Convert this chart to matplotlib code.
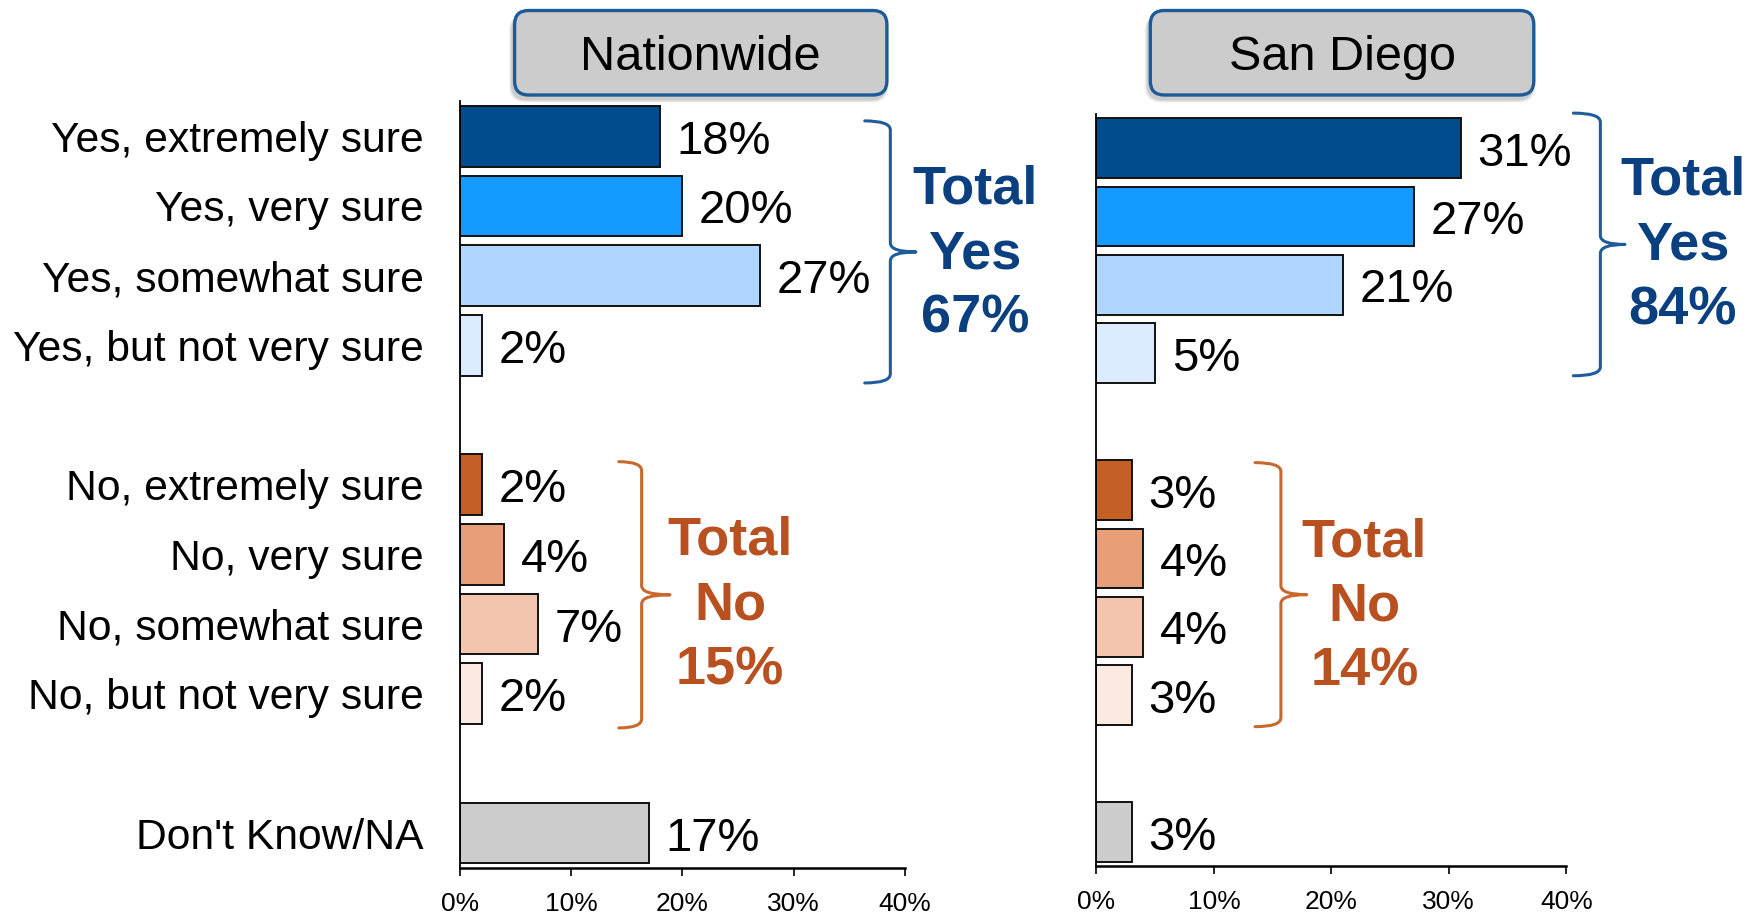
import matplotlib
matplotlib.use("Agg")
import matplotlib.pyplot as plt
from matplotlib.path import Path
from matplotlib.patches import PathPatch, FancyBboxPatch

plt.rcParams['font.family'] = ['Liberation Sans', 'DejaVu Sans']

# ---------------- data ----------------
categories = ["Yes, extremely sure", "Yes, very sure", "Yes, somewhat sure",
              "Yes, but not very sure", "No, extremely sure", "No, very sure",
              "No, somewhat sure", "No, but not very sure", "Don't Know/NA"]
nationwide = [18, 20, 27, 2, 2, 4, 7, 2, 17]
san_diego = [31, 27, 21, 5, 3, 4, 4, 3, 3]
panel_titles = ["Nationwide", "San Diego"]
total_yes = [67, 84]
total_no = [15, 14]
xticks = [0, 10, 20, 30, 40]
xtick_labels = ["0%", "10%", "20%", "30%", "40%"]

bar_colors = ["#004C8F", "#159AFF", "#B0D5FF", "#DCEBFF",
              "#C45F26", "#E99E7A", "#F3C5AF", "#FBEAE2", "#CCCCCC"]
BLUE_TXT = "#0A3F80"
BLUE_BR = "#1F5C9C"
ORANGE_TXT = "#B8501F"
ORANGE_BR = "#C8682C"

# slot layout: 4 yes, gap, 4 no, gap, don't know
positions = [0, 1, 2, 3, 5, 6, 7, 8, 10]

W, H = 1758, 914
fig = plt.figure(figsize=(W / 100, H / 100), dpi=100)


def fig_rect(l, t, r, b):
    return [l / W, 1 - b / H, (r - l) / W, (b - t) / H]


ax1 = fig.add_axes(fig_rect(459.7, 101.4, 904.8, 868.0))
ax2 = fig.add_axes(fig_rect(1096.5, 113.8, 1566.3, 866.2))


def brace(ax, x_end, x_stem, x_tip, y_top, y_bot, color, r=0.13):
    y_mid = (y_top + y_bot) / 2
    verts = [(x_end, y_top), (x_stem, y_top), (x_stem, y_top + r),
             (x_stem, y_mid - r), (x_stem, y_mid), (x_tip, y_mid),
             (x_stem, y_mid), (x_stem, y_mid + r),
             (x_stem, y_bot - r), (x_stem, y_bot), (x_end, y_bot)]
    codes = [Path.MOVETO, Path.CURVE3, Path.CURVE3,
             Path.LINETO, Path.CURVE3, Path.CURVE3,
             Path.CURVE3, Path.CURVE3,
             Path.LINETO, Path.CURVE3, Path.CURVE3]
    ax.add_patch(PathPatch(Path(verts, codes), facecolor='none',
                           edgecolor=color, lw=2.2, clip_on=False,
                           capstyle='round', joinstyle='round'))


for ax, vals in [(ax1, nationwide), (ax2, san_diego)]:
    ax.barh(positions, vals, height=0.87, color=bar_colors,
            edgecolor="#111111", linewidth=1.4)
    for p, v in zip(positions, vals):
        ax.annotate(f"{v}%", xy=(v, p), xytext=(12, -4),
                    textcoords='offset points', va='center', ha='left',
                    fontsize=34, color='black')
    ax.set_xlim(0, 40)
    ax.set_ylim(10.5, -0.5)
    ax.set_xticks(xticks)
    ax.set_xticklabels(xtick_labels, fontsize=19)
    ax.tick_params(axis='x', direction='out', length=6, width=1.2, pad=11)
    ax.spines['top'].set_visible(False)
    ax.spines['right'].set_visible(False)
    ax.spines['left'].set_linewidth(1.3)
    ax.spines['bottom'].set_linewidth(1.8)
    ax.patch.set_alpha(0)

ax1.set_yticks(positions)
ax1.set_yticklabels(categories, fontsize=30.7)
ax1.tick_params(axis='y', length=0, pad=26)
ax2.set_yticks([])

# braces and totals
brace(ax1, 36.4, 38.7, 41.0, -0.22, 3.54, BLUE_BR)
brace(ax1, 14.3, 16.35, 18.9, 4.67, 8.49, ORANGE_BR)
brace(ax2, 40.6, 42.9, 45.0, -0.51, 3.33, BLUE_BR)
brace(ax2, 13.5, 15.7, 17.9, 4.60, 8.46, ORANGE_BR)

tot_kw = dict(ha='center', va='center', fontsize=39, fontweight='bold',
              linespacing=1.38, clip_on=False)
ax1.text(46.3, 1.69, f"Total\nYes\n{total_yes[0]}%", color=BLUE_TXT, **tot_kw)
ax1.text(24.3, 6.73, f"Total\nNo\n{total_no[0]}%", color=ORANGE_TXT, **tot_kw)
ax2.text(49.9, 1.43, f"Total\nYes\n{total_yes[1]}%", color=BLUE_TXT, **tot_kw)
ax2.text(22.8, 6.71, f"Total\nNo\n{total_no[1]}%", color=ORANGE_TXT, **tot_kw)

# title boxes (overlay axes in pixel units)
ov = fig.add_axes([0, 0, 1, 1])
ov.set_xlim(0, W)
ov.set_ylim(H, 0)
ov.axis('off')
ov.patch.set_alpha(0)

for (l, r), title in zip([(514.6, 886.9), (1150.3, 1533.8)], panel_titles):
    t, b = 10.5, 95.0
    for k, a in [(7, 0.05), (5, 0.07), (3, 0.09)]:
        ov.add_patch(FancyBboxPatch((l - 2 - k / 2, t + 4), r - l + k, b - t + k / 2,
                                    boxstyle="round,pad=0,rounding_size=16",
                                    facecolor='black', edgecolor='none', alpha=a))
    ov.add_patch(FancyBboxPatch((l, t), r - l, b - t,
                                boxstyle="round,pad=0,rounding_size=14",
                                facecolor="#CCCCCC", edgecolor="#1D5A98", lw=2.4))
    ov.text((l + r) / 2, (t + b) / 2 + 5, title, ha='center', va='center',
            fontsize=35, color='black')

fig.savefig("out.png", dpi=100)
